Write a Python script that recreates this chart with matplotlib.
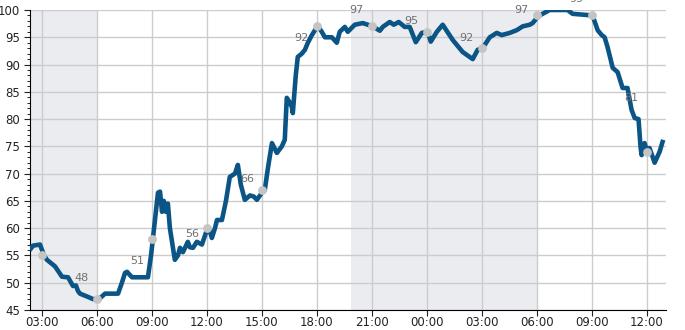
import numpy as np
import pandas as pd
import matplotlib
matplotlib.use("Agg")
import matplotlib.pyplot as plt
import matplotlib.dates as mdates
from matplotlib.ticker import MultipleLocator

# data: hours since midnight of day 1, and value
hours = [2.40, 2.51, 2.89, 3.11, 3.27, 3.71, 4.09, 4.42, 4.69, 4.85, 4.96, 5.07,
         5.51, 5.78, 6.11, 6.44, 7.15, 7.36, 7.53, 7.64, 7.91, 8.78, 8.95, 9.05,
         9.22, 9.33, 9.44, 9.55, 9.65, 9.76, 9.87, 9.98, 10.25, 10.42, 10.53,
         10.69, 10.96, 11.07, 11.24, 11.45, 11.73, 12.0, 12.11, 12.27, 12.44,
         12.55, 12.82, 13.04, 13.25, 13.53, 13.69, 13.85, 14.07, 14.35, 14.56,
         14.73, 15.0, 15.16, 15.33, 15.55, 15.82, 16.09, 16.25, 16.36, 16.53,
         16.64, 16.69, 16.85, 16.96, 17.18, 17.35, 17.51, 17.73, 18.05, 18.27,
         18.44, 18.82, 19.09, 19.25, 19.53, 19.69, 20.07, 20.51, 20.78, 21.05,
         21.44, 21.6, 21.98, 22.2, 22.47, 22.8, 23.07, 23.4, 23.73, 24.05, 24.22,
         24.55, 24.87, 25.42, 25.96, 26.51, 26.78, 27.05, 27.44, 27.82, 28.09,
         28.53, 28.91, 29.24, 29.62, 29.78, 30.0, 30.16, 30.55, 30.71, 31.69,
         31.96, 33.05, 33.33, 33.55, 33.71, 33.87, 34.15, 34.42, 34.69, 34.96,
         35.18, 35.35, 35.56, 35.67, 35.73, 35.89, 36.05, 36.16, 36.44, 36.71,
         36.87]
values = [56.3, 56.8, 57.0, 55.0, 54.2, 53.0, 51.1, 51.0, 49.4, 49.5, 48.5, 48.0,
          47.4, 47.0, 47.0, 48.0, 48.0, 50.0, 51.8, 52.0, 51.0, 51.0, 55.0, 58.0,
          63.0, 66.5, 66.7, 63.0, 65.0, 63.0, 64.5, 60.0, 54.2, 55.0, 56.4,
          55.6, 57.5, 56.5, 56.4, 57.5, 57.0, 59.7, 60.0, 58.2, 60.0,
          61.5, 61.5, 65.0, 69.4, 70.0, 71.6, 68.0, 65.2, 66.0, 65.8,
          65.2, 66.5, 67.0, 71.0, 75.6, 73.8, 75.0, 76.2, 83.9, 83.0,
          82.2, 81.1, 88.0, 91.4, 92.0, 92.7, 94.0, 95.4, 97.1, 96.0,
          95.0, 95.0, 94.0, 96.0, 96.9, 96.0, 97.3, 97.6, 97.3, 97.0,
          96.2, 96.9, 97.8, 97.3, 97.8, 96.9, 96.9, 94.1, 95.8, 96.0, 94.2,
          96.0, 97.3, 94.5, 92.3, 91.0, 92.7, 93.0, 95.0, 95.8, 95.4,
          95.8, 96.3, 97.0, 97.3, 97.6, 98.5, 99.0, 99.7, 100.0, 100.0,
          99.3, 99.0, 96.3, 95.4, 95.0, 93.2, 89.4, 88.6, 85.7, 85.7,
          81.7, 80.2, 80.0, 74.9, 73.4, 75.6, 73.8, 74.7, 72.0, 74.0,
          75.8]

# grey markers every 3 hours
dot_hours = [3, 6, 9, 12, 15, 18, 21, 24, 27, 30, 33, 36]
dot_values = [55, 47, 58, 60, 67, 97, 97, 96, 93, 99, 99, 74]

# value labels
label_hours = [5.18, 8.18, 11.18, 14.18, 17.18, 20.18, 23.18, 26.18, 29.18, 32.18, 35.18]
label_values = [48, 51, 56, 66, 92, 97, 95, 92, 97, 99, 81]

# shaded (night) periods
shade_spans = [(2.37, 6.0), (19.85, 30.0)]

base = pd.Timestamp("2024-01-01")
to_dt = lambda h: base + pd.to_timedelta(np.asarray(h), unit="h")

fig = plt.figure(figsize=(6.85, 3.3), dpi=100)
ax = fig.add_axes([0.0445, 0.0606, 0.9275, 0.9091])

for a, b in shade_spans:
    ax.axvspan(to_dt(a), to_dt(b), color="#ebecf0", zorder=0, lw=0)

ax.plot(to_dt(hours), values, color="#0b5586", lw=3.3, solid_joinstyle="round", zorder=3)
ax.scatter(to_dt(dot_hours), dot_values, s=40, color="#c4c4c4", zorder=4, lw=0)

for h, v in zip(label_hours, label_values):
    ax.annotate(str(v), (to_dt(h), v), xytext=(0, 11.5), textcoords="offset points",
                ha="center", va="center", fontsize=8, color="#707070",
                annotation_clip=False, zorder=5)

ax.set_xlim(to_dt(2.37), to_dt(37.05))
ax.set_ylim(45, 100)
ax.yaxis.set_major_locator(MultipleLocator(5))
ax.yaxis.set_minor_locator(MultipleLocator(1))
ax.xaxis.set_major_locator(mdates.HourLocator(byhour=range(0, 24, 3)))
ax.xaxis.set_major_formatter(mdates.DateFormatter("%H:%M"))

ax.set_axisbelow(True)
ax.grid(True, color="#cccccc", lw=1)
for s in ["top", "right"]:
    ax.spines[s].set_visible(False)
ax.tick_params(labelsize=8.5, length=4, colors="#222222")
ax.tick_params(which="minor", length=2)
ax.tick_params(axis="x", pad=0)

fig.savefig("out.png", dpi=100)
